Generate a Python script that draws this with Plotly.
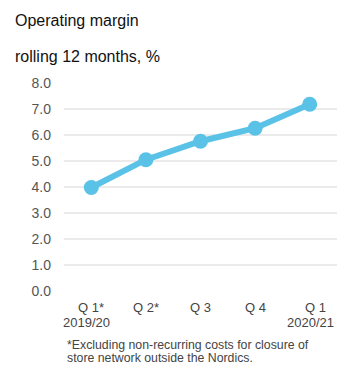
import plotly.graph_objects as go

categories = ["Q 1*", "Q 2*", "Q 3", "Q 4", "Q 1"]
margin_pct = [3.98, 5.05, 5.76, 6.26, 7.18]
year_labels = ["2019/20", "", "", "", "2020/21"]
y_ticks = [0, 1, 2, 3, 4, 5, 6, 7, 8]
y_ticktext = [f"{v:.1f}" for v in y_ticks]
footnote = ["*Excluding non-recurring costs for closure of",
            "store network outside the Nordics."]

W, H = 358, 365
L, R, T, B = 64, 21, 83, 74
PH = H - T - B
PW = W - L - R


def py(p):
    return (H - B - p) / PH


def px(p):
    return (p - L) / PW


fig = go.Figure()
fig.add_trace(go.Scatter(
    x=list(range(len(categories))), y=margin_pct, mode="lines+markers",
    line=dict(color="#5BC2E7", width=6),
    marker=dict(color="#5BC2E7", size=15),
    cliponaxis=False, hoverinfo="skip", showlegend=False,
))

font = "Liberation Sans, Arial, sans-serif"
fig.update_layout(
    width=W, height=H, margin=dict(l=L, r=R, t=T, b=B),
    paper_bgcolor="white", plot_bgcolor="white",
    font=dict(family=font, color="#555555", size=13),
    xaxis=dict(range=[-0.5, 4.5], showgrid=False, zeroline=False,
               showticklabels=False, fixedrange=True),
    yaxis=dict(range=[0, 8], tickvals=y_ticks, ticktext=y_ticktext,
               showgrid=True, gridcolor="#ebebeb", gridwidth=2,
               zeroline=False, ticks="", ticklabelstandoff=12,
               tickfont=dict(size=14, color="#555555")),
)

lab_font = dict(size=13, color="#444444", family=font)
anns = []
for i, (c, yl) in enumerate(zip(categories, year_labels)):
    anns.append(dict(x=i, xshift=(6 if i == 4 else 0), y=py(307), xref="x", yref="paper",
                     text=c, showarrow=False, yanchor="middle", xanchor="center",
                     borderpad=0, font=lab_font))
    if yl:
        anns.append(dict(x=i, xshift=(-5 if i == 0 else 1), y=py(322), xref="x", yref="paper",
                         text=yl, showarrow=False, yanchor="middle", xanchor="center",
                         borderpad=0, font=lab_font))
for k, line in enumerate(footnote):
    anns.append(dict(x=px(66), y=py(345 + 13 * k), xref="paper", yref="paper", text=line,
                     showarrow=False, xanchor="left", yanchor="middle", align="left",
                     borderpad=0, font=dict(size=12.3, color="#444444", family=font)))
anns.append(dict(x=px(13), y=py(21), xref="paper", yref="paper",
                 text="Operating margin", showarrow=False, xanchor="left", yanchor="middle",
                 font=dict(size=16, color="#111111", family=font)))
anns.append(dict(x=px(13), y=py(56), xref="paper", yref="paper",
                 text="rolling 12 months, %", showarrow=False, xanchor="left", yanchor="middle",
                 font=dict(size=16, color="#111111", family=font)))
fig.update_layout(annotations=anns)

fig.write_html("out.html")
